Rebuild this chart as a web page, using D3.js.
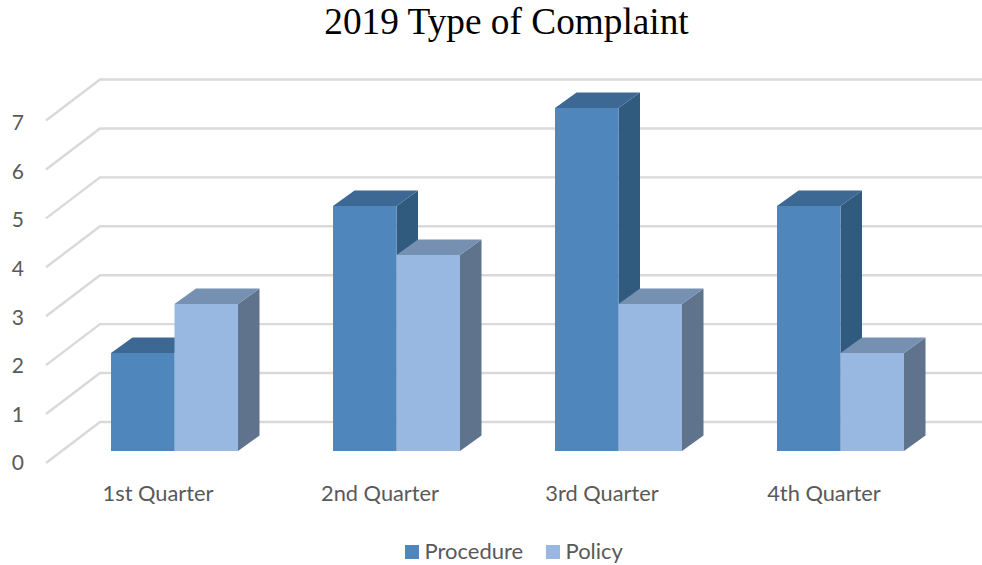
<!DOCTYPE html>
<html><head><meta charset="utf-8">
<script src="https://cdn.jsdelivr.net/npm/d3@7"></script>
<style>html,body{margin:0;padding:0;background:#fff}svg{display:block}</style></head>
<body><div id="chart"></div>
<script>
const categories = ["1st Quarter","2nd Quarter","3rd Quarter","4th Quarter"];
const seriesNames = ["Procedure","Policy"];
const procedure = [2,5,7,5];
const policy = [3,4,3,2];
const yTicks = [0,1,2,3,4,5,6,7];
const title = "2019 Type of Complaint";

const W=982,H=565;
const svg=d3.select("#chart").append("svg").attr("width",W).attr("height",H);
const font='Lato, "Noto Sans", sans-serif', labelColor="#595959";

// front plane of the bars
const y=d3.scaleLinear().domain([0,7]).range([451,108]);
const x0=d3.scaleBand().domain(categories).range([63,951]);
const groupW=127;
const x1=d3.scaleBand().domain(seriesNames).range([0,groupW]);
const groupLeft=c=>x0(c)+(x0.bandwidth()-groupW)/2+0.5;
// bar depth, and wall depth
const bd={x:21.5,y:-15.5}, wd={x:54,y:-41};
const wallFrontY=d3.scaleLinear().domain([0,7]).range([463,120.5]);

const grid=svg.append("g").attr("fill","none").attr("stroke","#d9d9d9").attr("stroke-width",2.4);
const wallLine=d3.line();
grid.selectAll("path").data(yTicks).join("path").attr("d",t=>{
  const fy=wallFrontY(t);
  return wallLine([[46,fy],[46+wd.x,fy+wd.y],[W,fy+wd.y]]);
});

const styles={
  Procedure:{front:"#4f87bd",top:"#3c6893",side:"#315a7f",vals:procedure},
  Policy:{front:"#98b8e1",top:"#7590b1",side:"#5f738c",vals:policy}
};
const line=d3.line();
categories.forEach((c,i)=>{
  const g=svg.append("g");
  seriesNames.forEach(s=>{
    const st=styles[s], xl=groupLeft(c)+x1(s), xr=xl+x1.bandwidth(), yt=y(st.vals[i]), yb=y(0);
    g.append("path").attr("fill",st.side).attr("d",line([[xr,yt],[xr+bd.x,yt+bd.y],[xr+bd.x,yb+bd.y],[xr,yb]])+"Z");
    g.append("path").attr("fill",st.top).attr("d",line([[xl,yt],[xl+bd.x,yt+bd.y],[xr+bd.x,yt+bd.y],[xr,yt]])+"Z");
    g.append("rect").attr("x",xl).attr("y",yt).attr("width",xr-xl).attr("height",yb-yt).attr("fill",st.front);
  });
});

// axes (labels only)
const yLabelScale=d3.scaleLinear().domain([0,7]).range([463,123]);
const ax=svg.append("g").attr("transform","translate(24,0)")
  .call(d3.axisLeft(yLabelScale).tickValues(yTicks).tickFormat(d3.format("d")).tickSize(0).tickPadding(0));
ax.select(".domain").remove();
ax.selectAll("text").attr("font-family",font).attr("font-size",21).attr("fill",labelColor);

const bx=svg.append("g").attr("transform","translate(0,486)")
  .call(d3.axisBottom(d3.scaleBand().domain(categories).range([47,935])).tickSize(0).tickPadding(0));
bx.select(".domain").remove();
bx.selectAll("text").attr("font-family",font).attr("font-size",21.8).attr("fill",labelColor);

svg.append("text").attr("x",506.5).attr("y",34).attr("text-anchor","middle")
  .attr("font-family",'"Liberation Serif", serif').attr("font-size",37.3).attr("fill","#000").text(title);

// legend
const legendX=[405,546];
seriesNames.forEach((s,i)=>{
  svg.append("rect").attr("x",legendX[i]).attr("y",545).attr("width",14).attr("height",14).attr("fill",styles[s].front);
  svg.append("text").attr("x",legendX[i]+19.5).attr("y",559).attr("font-family",font).attr("font-size",22).attr("fill",labelColor).text(s);
});
</script></body></html>
